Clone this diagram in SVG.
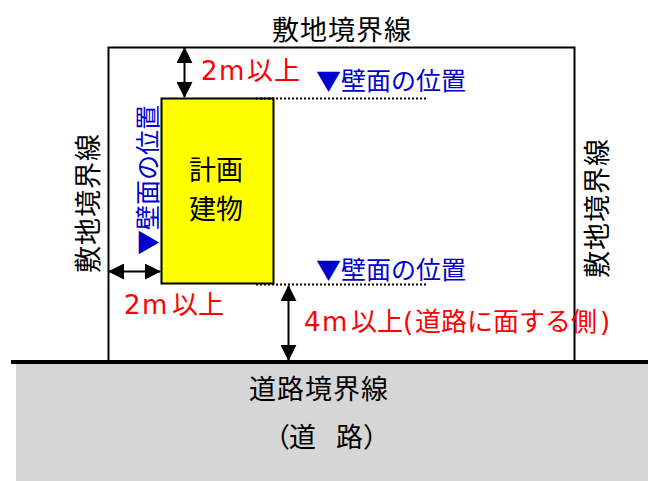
<svg xmlns="http://www.w3.org/2000/svg" width="648" height="481" viewBox="0 0 648 481">
<style>
text{font-family:"Noto Sans CJK JP","Noto Sans CJK SC",sans-serif;font-size:27px}
.k{fill:#000;letter-spacing:1px}
.r{fill:#f00;font-size:26px;font-family:"DejaVu Sans","Noto Sans CJK JP",sans-serif}
.b{fill:#00c;font-size:25px}
.a{stroke:#000;stroke-width:2;fill:none;marker-start:url(#h);marker-end:url(#h)}
.d{stroke:#000;stroke-width:2;stroke-dasharray:2 2;fill:none}
</style>
<defs><marker id="h" viewBox="0 0 16 16" refX="15" refY="8" markerWidth="16" markerHeight="16" markerUnits="userSpaceOnUse" orient="auto-start-reverse"><path d="M0 0L16 8L0 16Z" fill="#000"/></marker></defs>
<rect width="648" height="481" fill="#fff"/>
<g id="road"><rect x="16" y="362" width="632" height="119" fill="#d6d6d6"/>
<text class="k" x="249" y="399">道路境界線</text>
<text class="k" x="263 289 336 363" y="447">（道路）</text></g>
<g id="site"><path d="M108.500 361V47.500H574.500V361" fill="none" stroke="#000" stroke-width="2"/>
<text class="k" x="272" y="40">敷地境界線</text>
<text class="k" transform="translate(98 273) rotate(-90)">敷地境界線</text>
<text class="k" transform="translate(607 278) rotate(-90)">敷地境界線</text></g>
<g id="building"><rect x="161.500" y="98.500" width="112" height="185" fill="#ff0" stroke="#000" stroke-width="2"/>
<text class="k" x="189" y="180" style="letter-spacing:0">計画</text><text class="k" x="189" y="219" style="letter-spacing:0">建物</text></g>
<g id="connectors">
<path class="d" d="M256 98.500H426M256 284.500H426"/>
<path class="a" d="M184.500 48V97"/><path class="a" d="M109 271.500H160"/><path class="a" d="M288.500 286V360"/>
<path d="M11 362H648" stroke="#000" stroke-width="4"/>
</g>
<g id="labels">
<text class="r" x="201 219 247 274" y="80">2m以上</text>
<text class="r" x="124 142 172 198" y="314">2m以上</text>
<text class="r" x="304 322 351 377 403 415 441 467 493 519 545 571 600" y="331">4m以上(道路に面する側)</text>
<text class="b" x="316" y="90">▼壁面の位置</text>
<text class="b" x="316" y="279">▼壁面の位置</text>
<text class="b" transform="translate(157 255) rotate(-90)">▼壁面の位置</text>
</g>
</svg>
